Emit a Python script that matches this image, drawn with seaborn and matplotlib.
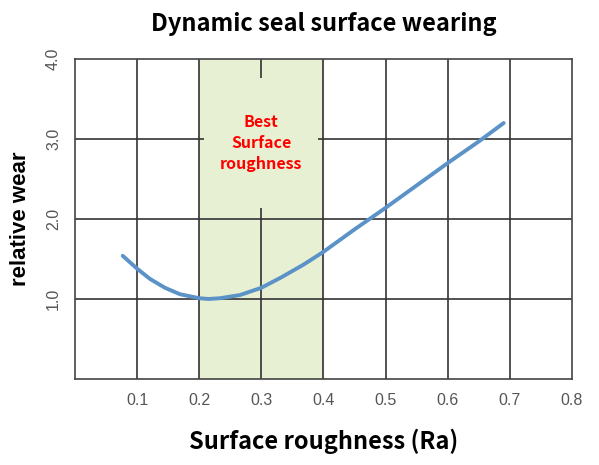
import numpy as np
import pandas as pd
import seaborn as sns
import matplotlib.pyplot as plt

# values
roughness = [0.077, 0.1, 0.121, 0.145, 0.169, 0.2, 0.215, 0.234, 0.266, 0.3,
             0.332, 0.368, 0.4, 0.45, 0.5, 0.55, 0.6, 0.65, 0.69]
wear = [1.54, 1.38, 1.25, 1.14, 1.06, 1.01, 1.0, 1.01, 1.05, 1.14,
        1.27, 1.43, 1.59, 1.87, 2.14, 2.42, 2.7, 2.97, 3.2]
best_range = [0.2, 0.4]
x_ticks = [0.1, 0.2, 0.3, 0.4, 0.5, 0.6, 0.7, 0.8]
y_ticks = [1.0, 2.0, 3.0, 4.0]

df = pd.DataFrame({'roughness': roughness, 'wear': wear})

sns.set_style("white")
plt.rcParams['font.family'] = ['Noto Sans CJK SC', 'DejaVu Sans']
plt.rcParams['text.color'] = 'black'
plt.rcParams['axes.labelcolor'] = 'black'

fig = plt.figure(figsize=(5.99, 4.65), dpi=100)
ax = fig.add_axes([0.125, 0.185, 0.83, 0.688])

green = '#e8f0d4'
ax.axvspan(best_range[0], best_range[1], color=green, zorder=0)
for xv in x_ticks[:-1]:
    ax.axvline(xv, color='#333333', lw=1.2, zorder=1)
for yv in y_ticks[:-1]:
    ax.axhline(yv, color='#333333', lw=1.2, zorder=1)

# blank first/last lines make the label's backing box taller than wide
ax.text(0.3, 2.95, ' \nBest\nSurface\nroughness\n ', color='red', fontsize=11.5,
        fontweight='bold', ha='center', va='center', linespacing=1.35,
        zorder=2, bbox=dict(boxstyle='square,pad=1.0', facecolor=green, edgecolor='none'))

sns.lineplot(data=df, x='roughness', y='wear', color='#5b93c8', lw=2.8,
             ax=ax, zorder=3, solid_capstyle='round')

ax.set_xlim(0, 0.8)
ax.set_ylim(0, 4)
ax.set_xticks(x_ticks)
ax.set_xticklabels(['%.1f' % v for v in x_ticks], color='#555555', fontsize=11.5,
                   family=['Liberation Sans'])
ax.set_yticks(y_ticks)
ax.set_yticklabels(['%.1f' % v for v in y_ticks], color='#555555', fontsize=11.5,
                   rotation=90, va='center', family=['Liberation Sans'])
ax.tick_params(length=0, pad=10)
for s in ax.spines.values():
    s.set_color('#444444')
    s.set_linewidth(1.2)

ax.set_xlabel('Surface roughness (Ra)', fontsize=17, fontweight='bold', labelpad=15)
ax.set_ylabel('relative wear', fontsize=16, fontweight='bold', labelpad=11,
              family=['Liberation Sans'])
ax.set_title('Dynamic seal surface wearing', fontsize=17, fontweight='bold', pad=20)

fig.savefig('out.png', dpi=100)
